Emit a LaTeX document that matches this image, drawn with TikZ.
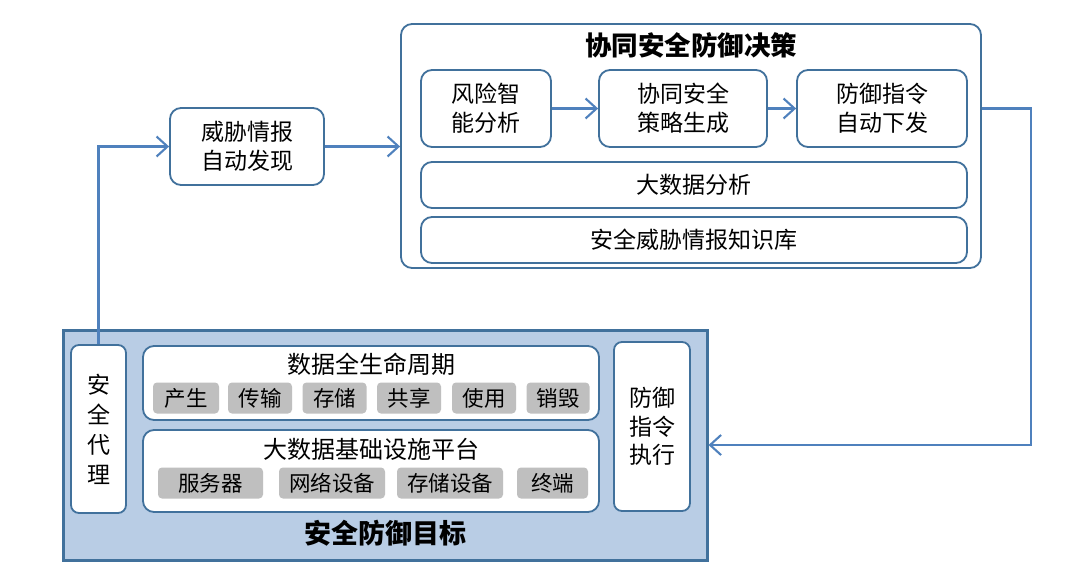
\documentclass[tikz,border=0pt]{standalone}
\usepackage{fontspec}
\setmainfont{Noto Sans CJK SC}
\usetikzlibrary{arrows.meta}
\definecolor{lineblue}{HTML}{4F81BD}
\definecolor{edgeblue}{HTML}{41719C}
\definecolor{fillblue}{HTML}{B9CDE5}
\definecolor{chipgray}{HTML}{BFBFBF}
\tikzset{
  box/.style={draw=edgeblue, line width=1.8pt, fill=white, rounded corners=11pt, align=center, inner sep=0pt, font=\fontsize{23}{29}\selectfont},
  chip/.style={fill=chipgray, rounded corners=4pt, inner sep=0pt, minimum height=31pt, font=\fontsize{21.5}{25}\selectfont},
  arr/.style={draw=lineblue, line width=2.1pt, -{Straight Barb[length=11pt,width=20pt,line width=2.1pt]}},
  ttl/.style={font=\bfseries\fontsize{26.5}{30}\selectfont, inner sep=0pt},
  sub/.style={font=\fontsize{24}{28}\selectfont, inner sep=0pt},
}
\begin{document}
\begin{tikzpicture}[x=1pt,y=-1pt]
\useasboundingbox (0,0) rectangle (1080,582);
% top decision box
\node[box, minimum width=580pt, minimum height=244pt] (top) at (691,146) {};
\node[ttl] (toptitle) at (691,45) {协同安全防御决策};
\node[box, minimum width=130pt, minimum height=77pt] (r1) at (486,108.5) {风险智\\能分析};
\node[box, minimum width=168pt, minimum height=77pt] (r2) at (683,108.5) {协同安全\\策略生成};
\node[box, minimum width=170pt, minimum height=77pt] (r3) at (882,108.5) {防御指令\\自动下发};
\node[box, minimum width=546pt, minimum height=46pt] (big) at (694,185) {大数据分析};
\node[box, minimum width=546pt, minimum height=46pt] (kb) at (694,240) {安全威胁情报知识库};
% intel
\node[box, minimum width=154pt, minimum height=77pt] (intel) at (247,146.5) {威胁情报\\自动发现};
% bottom target box
\node[draw=edgeblue, line width=3pt, fill=fillblue, minimum width=644pt, minimum height=230pt, inner sep=0pt] (bg) at (385,445) {};
\node[ttl, font=\bfseries\fontsize{27}{30}\selectfont] (bgtitle) at (385,533) {安全防御目标};
\node[box, rounded corners=8pt, minimum width=55pt, minimum height=168pt, font=\fontsize{23}{30}\selectfont] (agent) at (98.5,429) {安\\全\\代\\理};
\node[box, rounded corners=8pt, minimum width=76pt, minimum height=169pt, font=\fontsize{23}{28.5}\selectfont] (exec) at (652,426.5) {防御\\指令\\执行};
\node[box, minimum width=456pt, minimum height=74pt] (life) at (371,383) {};
\node[sub] (lifet) at (371,364) {数据全生命周期};
\node[box, minimum width=456pt, minimum height=82pt] (infra) at (371,471) {};
\node[sub] (infrat) at (371,449) {大数据基础设施平台};
% chips row 1
\node[chip, minimum width=66pt] (c1) at (186,398) {产生};
\node[chip, minimum width=64pt] (c2) at (260,398) {传输};
\node[chip, minimum width=64pt] (c3) at (334.5,398) {存储};
\node[chip, minimum width=64pt] (c4) at (409,398) {共享};
\node[chip, minimum width=64pt] (c5) at (484,398) {使用};
\node[chip, minimum width=63pt] (c6) at (558,398) {销毁};
% chips row 2
\node[chip, minimum width=105pt] (d1) at (210.5,483) {服务器};
\node[chip, minimum width=106pt] (d2) at (332,483) {网络设备};
\node[chip, minimum width=106pt] (d3) at (450,483) {存储设备};
\node[chip, minimum width=71pt] (d4) at (552.5,483) {终端};
% connectors
\draw[arr] (intel.east) -- (intel.east -| top.west);
\draw[arr] (r1) -- (r2);
\draw[arr] (r2) -- (r3);
\draw[arr] (agent.north) |- (intel.west);
\draw[arr] (r3.east -| top.east) -- ++(49,0) |- (bg.east);
\end{tikzpicture}
\end{document}
